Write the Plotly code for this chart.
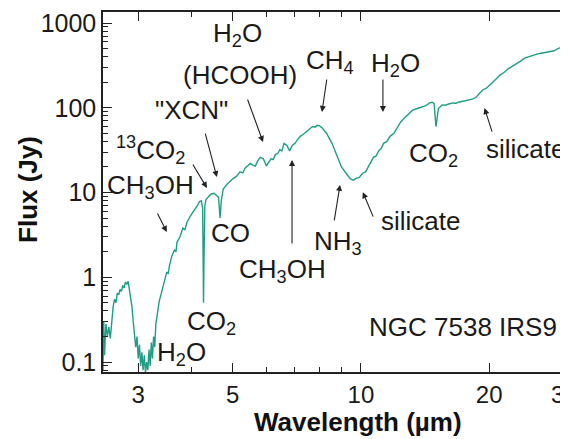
import math
import plotly.graph_objects as go

# ---- spectrum data (wavelength in micron, flux in Jy) ----
wavelength = [
    2.48, 2.49, 2.50, 2.52, 2.54, 2.56, 2.58, 2.60, 2.62, 2.64,
    2.66, 2.68, 2.70, 2.72, 2.74, 2.76, 2.78, 2.80, 2.82, 2.84,
    2.86, 2.88, 2.90, 2.92, 2.94, 2.96, 2.98, 3.00, 3.02, 3.04,
    3.06, 3.08, 3.10, 3.12, 3.14, 3.16, 3.18, 3.20, 3.22, 3.24,
    3.26, 3.28, 3.30, 3.33, 3.36, 3.40, 3.45, 3.50, 3.53, 3.55,
    3.60, 3.65, 3.68, 3.70, 3.76, 3.82, 3.86, 3.90, 3.97, 4.05,
    4.12, 4.18, 4.22, 4.25, 4.26, 4.27, 4.28, 4.30, 4.33, 4.38,
    4.45, 4.52, 4.58, 4.63, 4.67, 4.70, 4.75, 4.85, 5.00, 5.10,
    5.20, 5.28, 5.35, 5.42, 5.50, 5.57, 5.65, 5.72, 5.80, 5.90,
    6.00, 6.05, 6.15, 6.22, 6.30, 6.38, 6.45, 6.52, 6.60, 6.70,
    6.80, 6.90, 7.00, 7.10, 7.20, 7.30, 7.40, 7.50, 7.60, 7.70,
    7.80, 7.90, 8.00, 8.10, 8.30, 8.55, 8.80, 9.00, 9.30, 9.45,
    9.60, 9.75, 9.90, 10.1, 10.25, 10.4, 10.55, 10.7, 10.85, 11.0,
    11.15, 11.3, 11.5, 11.7, 11.95, 12.2, 12.4, 12.6, 12.8, 13.0,
    13.2, 13.4, 13.6, 13.8, 14.0, 14.2, 14.35, 14.5, 14.7, 14.85,
    15.0, 15.2, 15.5, 15.8, 16.0, 16.4, 16.7, 17.0, 17.5, 17.9,
    18.3, 18.6, 18.8, 19.3, 19.7, 20.2, 20.7, 21.2, 21.7, 22.2,
    22.7, 23.2, 23.7, 24.2, 24.8, 25.3, 26.0, 26.5, 27.2, 27.8,
    28.4, 29.0, 29.8, 30.6,
]
flux = [
    0.08, 0.30, 0.12, 0.28, 0.20, 0.26, 0.19, 0.30, 0.45, 0.55,
    0.50, 0.65, 0.62, 0.72, 0.68, 0.80, 0.75, 0.88, 0.82, 0.90,
    0.72, 0.60, 0.45, 0.30, 0.22, 0.15, 0.20, 0.11, 0.16, 0.09,
    0.13, 0.08, 0.12, 0.075, 0.10, 0.08, 0.14, 0.09, 0.17, 0.11,
    0.20, 0.15, 0.28, 0.38, 0.52, 0.65, 0.90, 1.15, 1.10, 1.35,
    1.80, 2.1, 2.0, 2.6, 3.0, 3.8, 3.6, 4.4, 5.2, 6.0,
    6.9, 7.8, 8.0, 6.5, 2.0, 0.5, 1.5, 7.0, 8.3, 8.8,
    9.6, 9.8, 9.2, 8.8, 5.0, 8.0, 11.0, 12.5, 14.5, 15.5,
    17.5, 17.0, 19.5, 20.5, 22.0, 21.0, 20.5, 23.5, 26.0, 25.0,
    20.5, 22.0, 25.0, 24.5, 28.0, 29.0, 32.0, 31.0, 38.0, 36.0,
    31.0, 36.0, 38.0, 42.0, 46.0, 48.0, 51.0, 55.0, 57.0, 60.0,
    59.0, 62.0, 61.0, 58.0, 50.0, 38.0, 27.0, 20.0, 16.0, 14.5,
    14.0, 14.8, 15.0, 17.0, 17.5, 20.0, 22.5, 26.0, 27.0, 31.0,
    33.0, 38.0, 40.0, 46.0, 50.0, 60.0, 68.0, 74.0, 80.0, 88.0,
    93.0, 96.0, 98.0, 100.0, 104.0, 106.0, 110.0, 114.0, 116.0, 112.0,
    60.0, 98.0, 108.0, 107.0, 110.0, 114.0, 113.0, 117.0, 120.0, 123.0,
    127.0, 132.0, 140.0, 162.0, 170.0, 190.0, 215.0, 243.0, 262.0, 290.0,
    310.0, 337.0, 355.0, 385.0, 400.0, 419.0, 432.0, 440.0, 448.0, 455.0,
    470.0, 500.0, 525.0, 560.0,
]

# ---- axis ticks ----
x_tick_vals = [3, 5, 10, 20, 30]
x_tick_text = ["3", "5", "10", "20", "30"]
x_minor_vals = [4, 6, 7, 8, 9]
y_tick_vals = [0.1, 1, 10, 100, 1000]
y_tick_text = ["0.1", "1", "10", "100", "1000"]
y_minor_vals = [m * 10.0 ** e for e in range(-2, 3) for m in range(2, 10)]

# ---- labels: (text, wavelength, flux) ----
labels = [
    ("H<sub>2</sub>O", 5.12, 740),
    ("(HCOOH)", 5.2, 243),
    ('"XCN"', 4.01, 94),
    ("<sup>13</sup>CO<sub>2</sub>", 3.20, 31.7),
    ("CH<sub>3</sub>OH", 3.20, 11.8),
    ("CO", 4.93, 3.3),
    ("CO<sub>2</sub>", 4.47, 0.29),
    ("H<sub>2</sub>O", 3.80, 0.127),
    ("CH<sub>3</sub>OH", 6.56, 1.2),
    ("NH<sub>3</sub>", 8.83, 2.6),
    ("silicate", 13.8, 4.6),
    ("CH<sub>4</sub>", 8.46, 347),
    ("H<sub>2</sub>O", 12.08, 328),
    ("CO<sub>2</sub>", 14.83, 28.4),
    ("silicate", 24.4, 32.5),
    ("NGC 7538 IRS9", 17.35, 0.26),
]

# ---- arrows: (head wavelength, head flux, tail dx px, tail dy px) ----
arrows = [
    (5.89, 39.4, -16, -44),
    (8.10, 89, 5, -34),
    (11.26, 89, 0, -34),
    (6.89, 24.2, 0, 85),
    (8.93, 12.3, -6, 37),
    (10.1, 10.1, 11, 26),
    (19.5, 99, 8, 25),
    (3.50, 3.42, -10, -20),
    (4.35, 11.3, -15, -25),
    (4.59, 15.2, -12, -45),
]

LINE = "#1f9e84"
TXT = "#1a1a1a"
FONT = "Liberation Sans, Arial, sans-serif"

fig = go.Figure()
fig.add_trace(go.Scatter(x=wavelength, y=flux, mode="lines",
                         line=dict(color=LINE, width=1.4), showlegend=False,
                         hoverinfo="skip"))

annotations = []
for text, wl, fx in labels:
    annotations.append(dict(x=math.log10(wl), y=math.log10(fx), xref="x", yref="y",
                            text=text, showarrow=False,
                            font=dict(family=FONT, size=26, color=TXT),
                            xanchor="center", yanchor="middle"))
for wl, fx, dx, dy in arrows:
    annotations.append(dict(x=math.log10(wl), y=math.log10(fx), xref="x", yref="y",
                            text="", showarrow=True, ax=dx, ay=dy,
                            arrowhead=2, arrowsize=1.1, arrowwidth=1.1,
                            arrowcolor="#222222"))
# axis titles
annotations.append(dict(x=0.548, y=-0.138, xref="paper", yref="paper",
                        text="<b>Wavelength (µm)</b>", showarrow=False,
                        font=dict(family=FONT, size=26, color="#111111"),
                        xanchor="center", yanchor="middle"))
annotations.append(dict(x=-0.161, y=0.506, xref="paper", yref="paper",
                        text="<b>Flux (Jy)</b>", showarrow=False, textangle=-90,
                        font=dict(family=FONT, size=26, color="#111111"),
                        xanchor="center", yanchor="middle"))

x_lo = math.log10(2.48)
fig.update_layout(
    width=560, height=431,
    margin=dict(l=95, r=0, t=4, b=67, autoexpand=False),
    paper_bgcolor="white", plot_bgcolor="white",
    font=dict(family=FONT, size=25, color=TXT),
    annotations=annotations,
    xaxis=dict(type="log", range=[x_lo, x_lo + 465 / 426], automargin=False,
               tickmode="array", tickvals=x_tick_vals, ticktext=x_tick_text,
               ticks="inside", ticklen=9, tickwidth=1.2, tickcolor="#222",
               minor=dict(tickmode="array", tickvals=x_minor_vals, ticks="inside",
                          ticklen=5, tickwidth=1.2, tickcolor="#222"),
               showline=True, linecolor="#222", linewidth=1.5, mirror="ticks",
               showgrid=False, zeroline=False, ticklabeloverflow="allow",
               tickfont=dict(family=FONT, size=24, color=TXT)),
    yaxis=dict(type="log", range=[3.1298 - 360 / 84.75, 3.1298], automargin=False,
               tickmode="array", tickvals=y_tick_vals, ticktext=y_tick_text,
               ticks="inside", ticklen=9, tickwidth=1.2, tickcolor="#222",
               minor=dict(tickmode="array", tickvals=y_minor_vals, ticks="inside",
                          ticklen=5, tickwidth=1.2, tickcolor="#222"),
               showline=True, linecolor="#222", linewidth=1.5,
               showgrid=False, zeroline=False,
               tickfont=dict(family=FONT, size=25, color=TXT)),
)

fig.write_html("out.html")
